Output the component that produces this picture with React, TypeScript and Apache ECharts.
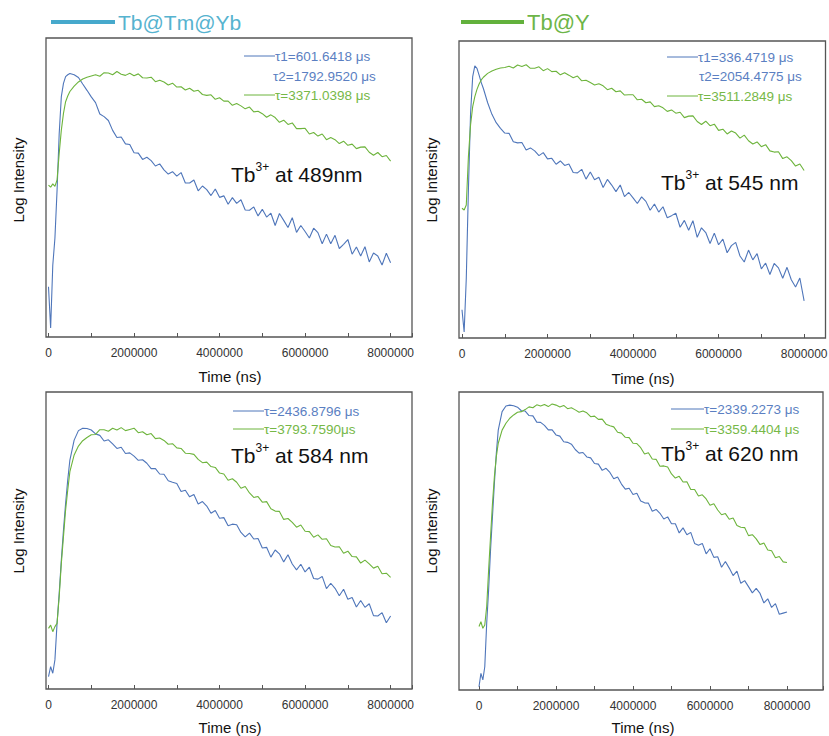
import React, { useEffect, useRef } from 'react';
import * as echarts from 'echarts';

// Sampling times in microseconds (x axis shown in ns)
const TIME_US = [0,50,100,150,200,250,300,350,400,450,500,600,700,800,900,1000,
1100,1200,1300,1400,1500,1600,1700,1800,1900,2000,2100,2200,2300,2400,2500,2600,2700,2800,2900,3000,
3100,3200,3300,3400,3500,3600,3700,3800,3900,4000,4100,4200,4300,4400,4500,4600,4700,4800,4900,5000,
5100,5200,5300,5400,5500,5600,5700,5800,5900,6000,6100,6200,6300,6400,6500,6600,6700,6800,6900,7000,
7100,7200,7300,7400,7500,7600,7700,7800,7900,8000];

// Log intensity (arbitrary units, 0 = bottom of frame, 100 = top)
const TL_BLUE = [16.8,3,24,33,49,68,80.4,84.8,87.1,87.7,88.1,87.7,86.8,84.6,82.5,80.3,
78.4,74.6,73.7,72.4,69.1,66.7,66.9,64.6,64.4,61.6,61.5,59.4,60.1,59.0,57.2,57.9,55.9,54.5,55.3,53.8,
55.0,51.5,51.5,52.5,48.9,50.5,49.3,47.3,49.5,46.7,47.2,44.4,46.6,44.7,45.9,42.5,42.4,43.5,40.5,42.7,
40.1,41.4,37.3,41.3,39.0,36.6,39.9,35.0,37.3,35.3,33.1,36.4,34.9,31.2,34.4,31.2,34.0,29.6,31.0,32.6,
27.7,30.1,27.1,30.2,25.1,28.1,27.1,24.1,28.0,24.8];
const TL_GREEN = [50.8,50.1,51.2,50.4,52.5,61.4,69.2,74.8,78.7,80.6,82.1,83.9,85.3,86.3,86.9,87.3,
87.7,87.2,88.4,88.3,87.7,88.8,87.9,87.5,88.2,87.4,88.0,86.7,86.6,86.9,85.4,85.9,85.3,84.3,84.9,83.6,
83.7,82.6,83.2,82.2,82.5,81.1,80.8,81.0,79.5,80.0,78.9,78.9,77.5,78.1,77.3,76.3,76.9,75.3,75.5,74.7,
73.5,74.3,73.4,71.8,72.5,71.1,71.6,69.7,69.7,69.8,67.9,68.4,67.2,67.9,66.0,66.7,66.0,64.7,65.5,64.1,
64.5,63.0,63.5,63.6,61.8,60.8,61.7,60.3,60.7,58.8];
const TR_BLUE = [9.5,2.0,20,50,75.6,88,91.6,90.8,88.5,86,84,79.2,75.3,72.5,70.6,69,
68.9,66.1,65.7,65.8,63.3,64.0,63.0,61.4,62.4,60.3,60.5,58.5,59.6,58.1,58.6,55.7,55.6,56.8,53.5,55.9,
53.3,54.1,50.7,53.4,51.5,49.3,51.5,47.6,49.0,47.2,45.3,47.5,46.0,43.0,45.1,42.4,44.2,40.5,41.2,42.0,
37.3,39.6,36.3,39.5,33.9,37.1,35.5,31.8,35.3,31.4,33.3,28.7,31.1,32.2,27.6,25.6,29.6,26.3,28.4,23.3,
25.2,21.4,25.1,23.6,20.1,23.8,19.6,17.2,20.2,12.5];
const TR_GREEN = [43.7,43.1,44.8,61.1,71.7,77.9,81.3,83.7,85.5,86.9,87.8,89.1,89.9,90.5,90.9,91.1,
91.5,90.9,91.9,91.4,92.0,90.8,90.8,91.3,90.0,90.7,89.7,89.8,88.6,89.3,88.5,87.6,88.2,86.6,86.8,86.0,
85.2,85.6,84.9,83.6,84.1,82.9,83.2,81.8,81.9,81.9,80.2,80.4,79.2,79.5,77.9,78.2,77.5,76.3,76.8,75.7,
76.0,74.2,74.7,74.8,72.9,71.9,73.0,71.5,72.0,69.9,70.3,68.7,69.7,69.0,67.3,68.3,66.4,65.3,66.0,64.4,
65.1,63.0,62.6,62.7,60.4,61.0,59.7,57.9,58.6,56.4];
const BL_BLUE = [4.2,7.5,5.3,9.8,22.1,32.2,43.4,53.5,62.5,70.4,77.1,83.8,87,87.8,87.7,87.2,
85.9,85.4,83.5,83.9,82.5,81.0,81.4,79.3,79.5,78.4,77.0,77.2,76.0,74.2,74.2,72.4,72.3,70.1,69.6,69.2,
66.5,66.9,64.7,65.5,62.3,63.1,61.6,59.2,60.1,57.5,57.7,55.0,55.5,55.3,52.7,51.2,52.5,50.5,50.7,47.5,
47.7,44.4,46.8,45.5,42.8,45.2,42.1,40.1,42.0,39.4,41.0,37.2,37.0,37.9,33.8,35.6,33.9,31.4,33.6,30.2,
30.8,27.6,29.8,27.5,28.7,24.7,24.6,25.7,22.3,24.6];
const BL_GREEN = [20.4,21.5,19.3,21,22.1,31.1,42.3,51.3,60.3,67,73.2,78.8,81.8,83.6,84.7,85.6,
85.7,87.3,87.3,86.8,87.8,87.2,88.0,87.0,87.4,87.8,86.3,86.6,85.6,86.0,84.3,84.5,83.7,82.4,82.6,81.2,
81.0,79.4,79.3,79.0,77.3,76.2,76.4,74.9,74.6,72.7,72.4,70.3,70.8,69.6,67.6,68.2,66.0,64.5,64.8,62.9,
63.1,60.7,59.9,59.8,57.1,57.4,56.1,54.5,55.2,53.1,53.0,51.1,51.9,50.4,50.6,48.3,47.8,47.9,45.7,46.4,
44.6,44.5,42.4,43.4,42.1,40.7,41.3,38.8,39.0,37.6];
const BR_BLUE = [1.1,5.6,3.4,7.8,22.4,33.6,47,58.2,69.4,79.4,87.2,93.4,95.3,95.6,95.4,94.9,
93.7,93.6,92.1,92.0,89.9,89.8,88.8,87.3,87.3,85.6,85.2,83.3,83.1,82.5,80.7,79.5,79.7,78.2,77.9,76.0,
75.8,73.7,74.4,73.0,70.9,71.5,69.1,67.4,67.7,65.6,66.0,63.4,62.8,62.7,60.0,60.6,59.3,57.4,58.1,55.8,
55.8,52.7,54.4,52.1,52.9,49.2,48.6,49.2,45.7,47.4,44.5,44.7,41.2,43.1,40.9,38.4,39.9,35.8,36.7,34.7,
32.6,34.1,32.4,29.2,30.6,27.7,29.0,25.4,25.8,26.2];
const BR_GREEN = [21.3,22.9,20.7,21.8,28,40.3,51.5,62.6,71.6,78.3,82.8,87.2,89.5,91.2,92.3,93.2,
93.4,94.1,95.0,94.7,95.7,95.3,95.8,95.1,96.0,95.6,95.0,95.5,94.4,94.7,94.0,93.2,93.6,93.0,91.7,91.9,
90.8,90.9,89.2,88.7,88.3,86.5,86.2,84.8,84.7,82.8,82.7,81.3,79.2,79.6,77.5,77.4,75.1,75.2,74.8,72.5,
71.1,71.7,69.8,69.9,67.3,67.3,65.1,65.5,64.1,62.0,62.5,60.4,58.8,59.2,57.3,57.7,55.2,54.6,54.5,51.8,
52.1,50.7,48.8,49.3,47.0,46.7,44.4,44.8,43.0,42.8];

const LEGEND_NAMES = ['Tb@Tm@Yb', 'Tb@Y'];
const WAVELENGTH_LABELS = [' at 489nm', ' at 545 nm', ' at 584 nm', ' at 620 nm'];
const TAU_LABELS = [
  ['τ1=601.6418 μs', 'τ2=1792.9520 μs', 'τ=3371.0398 μs'],
  ['τ1=336.4719 μs', 'τ2=2054.4775 μs', 'τ=3511.2849 μs'],
  ['τ=2436.8796 μs', 'τ=3793.7590μs'],
  ['τ=2339.2273 μs', 'τ=3359.4404 μs'],
];
const X_TITLE = 'Time (ns)';
const Y_TITLE = 'Log Intensity';

const BLUE = '#4f76ba';
const GREEN = '#6db43c';
const BLUE_TEXT = '#5b7fc2';
const GREEN_TEXT = '#76b847';
const FONT = 'Arial, "Liberation Sans", Helvetica, sans-serif';
const FRAME = '#555555';

const PANELS = [
  { blue: TL_BLUE, green: TL_GREEN, grid: { left: 48.5, top: 38, width: 363.5, height: 299 }, box: [46, 38, 366, 299], xMax: 8500000,
    yTitle: [18, 180], xTitle: [230, 376], tb: [231, 173], tau: { lineX: 244, textX: 275, tau2X: 273, ys: [56, 76, 95] } },
  { blue: TR_BLUE, green: TR_GREEN, grid: { left: 462, top: 41, width: 363.5, height: 297 }, box: [459, 41, 366.5, 297], xMax: 8500000,
    yTitle: [431, 180], xTitle: [643, 378], tb: [661, 181], tau: { lineX: 667, textX: 698, tau2X: 699, ys: [57, 76, 96] } },
  { blue: BL_BLUE, green: BL_GREEN, grid: { left: 48.5, top: 392, width: 363.5, height: 297 }, box: [46, 392, 366, 297], xMax: 8500000,
    yTitle: [18, 531], xTitle: [230, 727], tb: [231, 454], tau: { lineX: 233, textX: 264, tau2X: 264, ys: [411, 429] } },
  { blue: BR_BLUE, green: BR_GREEN, grid: { left: 479, top: 392, width: 344, height: 298 }, box: [459, 392, 364, 298], xMax: 8935000,
    yTitle: [431, 531], xTitle: [643, 727], tb: [661, 452], tau: { lineX: 671, textX: 704, tau2X: 704, ys: [409, 429] } },
];

function buildOption() {
  const grids: any[] = [];
  const xAxes: any[] = [];
  const yAxes: any[] = [];
  const series: any[] = [];
  const graphics: any[] = [];

  PANELS.forEach((p, i) => {
    grids.push({ ...p.grid, show: false, containLabel: false, outerBoundsMode: 'none' });
    xAxes.push({
      type: 'value', gridIndex: i, min: 0, max: p.xMax, interval: 1000000,
      axisLine: { show: false },
      axisTick: { show: true, inside: true, length: 4, lineStyle: { color: FRAME, width: 1 } },
      axisLabel: {
        show: true, margin: 10, fontSize: 12, color: '#333', fontFamily: FONT, hideOverlap: false,
        showMinLabel: true, showMaxLabel: true,
        formatter: (v: number) => (v % 2000000 === 0 && v <= 8000000 ? String(v) : ''),
      },
      splitLine: { show: false },
    });
    yAxes.push({ type: 'value', gridIndex: i, min: 0, max: 100, show: false, splitLine: { show: false } });
    series.push({
      type: 'line', xAxisIndex: i, yAxisIndex: i, symbol: 'none', silent: true,
      lineStyle: { color: BLUE, width: 1.1 }, itemStyle: { color: BLUE },
      data: TIME_US.map((t, k) => [t * 1000, p.blue[k]]),
    });
    series.push({
      type: 'line', xAxisIndex: i, yAxisIndex: i, symbol: 'none', silent: true,
      lineStyle: { color: GREEN, width: 1.1 }, itemStyle: { color: GREEN },
      data: TIME_US.map((t, k) => [t * 1000, p.green[k]]),
    });

    // frame
    graphics.push({ type: 'rect', shape: { x: p.box[0], y: p.box[1], width: p.box[2], height: p.box[3] },
      style: { fill: 'none', stroke: FRAME, lineWidth: 1.3 }, z: 10, silent: true });
    // axis titles
    graphics.push({ type: 'text', x: p.xTitle[0], y: p.xTitle[1],
      style: { text: X_TITLE, fill: '#111', font: `15px ${FONT}`, align: 'center', verticalAlign: 'middle' } });
    graphics.push({ type: 'text', x: p.yTitle[0], y: p.yTitle[1], rotation: Math.PI / 2,
      style: { text: Y_TITLE, fill: '#111', font: `15px ${FONT}`, align: 'center', verticalAlign: 'middle' } });
    // Tb3+ label
    graphics.push({ type: 'text', x: p.tb[0], y: p.tb[1],
      style: {
        text: `{a|Tb}{s|3+}{a|${WAVELENGTH_LABELS[i]}}`, align: 'left', verticalAlign: 'middle',
        rich: {
          a: { fontSize: 21, fontFamily: FONT, fill: '#111', lineHeight: 24, verticalAlign: 'bottom' },
          s: { fontSize: 12, fontFamily: FONT, fill: '#111', lineHeight: 22, verticalAlign: 'top' },
        },
      } });
    // tau annotations
    const labels = TAU_LABELS[i];
    const t = p.tau;
    labels.forEach((txt, j) => {
      const isGreen = j === labels.length - 1;
      const isTau2 = labels.length === 3 && j === 1;
      const y = t.ys[j];
      if (!isTau2) {
        graphics.push({ type: 'line', shape: { x1: t.lineX, y1: y, x2: t.textX, y2: y },
          style: { stroke: isGreen ? GREEN : BLUE, lineWidth: 1 } });
      }
      graphics.push({ type: 'text', x: isTau2 ? t.tau2X : t.textX, y,
        style: { text: txt, fill: isGreen ? GREEN_TEXT : BLUE_TEXT, font: `13.5px ${FONT}`, align: 'left', verticalAlign: 'middle' } });
    });
  });

  // top legends
  graphics.push({ type: 'line', shape: { x1: 51, y1: 22, x2: 115, y2: 22 }, style: { stroke: '#46a9cc', lineWidth: 4 } });
  graphics.push({ type: 'text', x: 118, y: 22, style: { text: LEGEND_NAMES[0], fill: '#56b3cf', font: `21px ${FONT}`, align: 'left', verticalAlign: 'middle' } });
  graphics.push({ type: 'line', shape: { x1: 461, y1: 22, x2: 524, y2: 22 }, style: { stroke: '#62b13c', lineWidth: 4 } });
  graphics.push({ type: 'text', x: 527, y: 22, style: { text: LEGEND_NAMES[1], fill: '#6db548', font: `22px ${FONT}`, align: 'left', verticalAlign: 'middle' } });

  return {
    animation: false,
    backgroundColor: '#ffffff',
    grid: grids,
    xAxis: xAxes,
    yAxis: yAxes,
    series,
    graphic: { elements: graphics },
  };
}

export default function App() {
  const ref = useRef<HTMLDivElement>(null);
  useEffect(() => {
    if (!ref.current) return;
    const chart = echarts.init(ref.current, undefined, { renderer: 'svg' });
    chart.setOption(buildOption() as any);
    return () => chart.dispose();
  }, []);
  return (
    <div
      ref={ref}
      style={{ position: 'absolute', left: 0, top: 0, width: 829, height: 736, background: '#fff' }}
    />
  );
}
